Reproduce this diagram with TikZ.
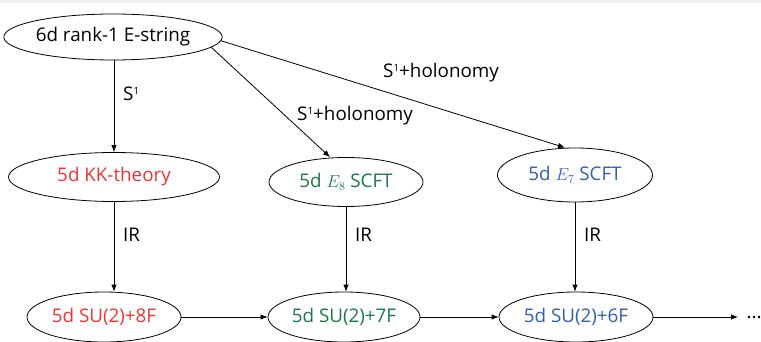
\documentclass[tikz,border=0pt]{standalone}
\usepackage{fontspec}
\setmainfont{Open Sans}
\usetikzlibrary{shapes.geometric,arrows.meta}
\definecolor{cred}{RGB}{236,52,52}
\definecolor{cgreen}{RGB}{30,118,72}
\definecolor{cblue}{RGB}{48,94,176}
\newcommand{\supone}{\raisebox{0.62ex}{\fontsize{10}{10}\selectfont 1}}
\begin{document}
\begin{tikzpicture}[x=1pt,y=-1pt,
  every node/.style={font=\fontsize{18.8}{22}\selectfont},
  oval/.style={ellipse,draw,line width=0.8pt,inner sep=0pt},
  conn/.style={line width=0.8pt,-{Latex[length=7pt,width=5.5pt]}},
  lbl/.style={inner sep=0pt,anchor=west}]
\useasboundingbox (0,0) rectangle (761,342);
\fill[gray!12] (0,0) rectangle (761,3);
\node[oval,minimum width=213pt,minimum height=46pt] (top) at (113,37) {6d rank-1 E-string};
\node[oval,minimum width=211pt,minimum height=49pt,text=cred] (kk) at (114,177) {5d KK-theory};
\node[oval,minimum width=154pt,minimum height=49pt,text=cgreen] (e8) at (346,182) {5d $E_8$ SCFT};
\node[oval,minimum width=155pt,minimum height=54pt,text=cblue] (e7) at (575,175) {5d $E_7$ SCFT};
\node[oval,minimum width=154pt,minimum height=50pt,text=cred] (f8) at (104,317) {5d SU(2)+8F};
\node[oval,minimum width=152pt,minimum height=50pt,text=cgreen] (f7) at (344,317) {5d SU(2)+7F};
\node[oval,minimum width=154pt,minimum height=50pt,text=cblue] (f6) at (576,317) {5d SU(2)+6F};
\node[inner sep=0pt] (dots) at (754,318) {...};
\coordinate (dend) at (738,317);
\draw[conn] (top.south -| kk.north) -- (kk.north);
\draw[conn] (top.-6) -- (e8.north -| 330,0);
\draw[conn] (top.-2) -- (e7.north -| 565,0);
\draw[conn] (kk.south) -- (kk.south |- f8.north);
\draw[conn] (e8.south) -- (f7.north -| e8.south);
\draw[conn] (e7.south) -- (f6.north -| e7.south);
\draw[conn] (f8.east) -- (f7.west);
\draw[conn] (f7.east) -- (f6.west);
\draw[conn] (f6.east) -- (dend);
\node[lbl] (l1) at (123,94) {S\supone};
\node[lbl] (l2) at (297,116) {S\supone+holonomy};
\node[lbl] (l3) at (383,73) {S\supone+holonomy};
\node[lbl] (ir1) at (123,235) {IR};
\node[lbl] (ir2) at (355,235) {IR};
\node[lbl] (ir3) at (584,235) {IR};
\end{tikzpicture}
\end{document}
